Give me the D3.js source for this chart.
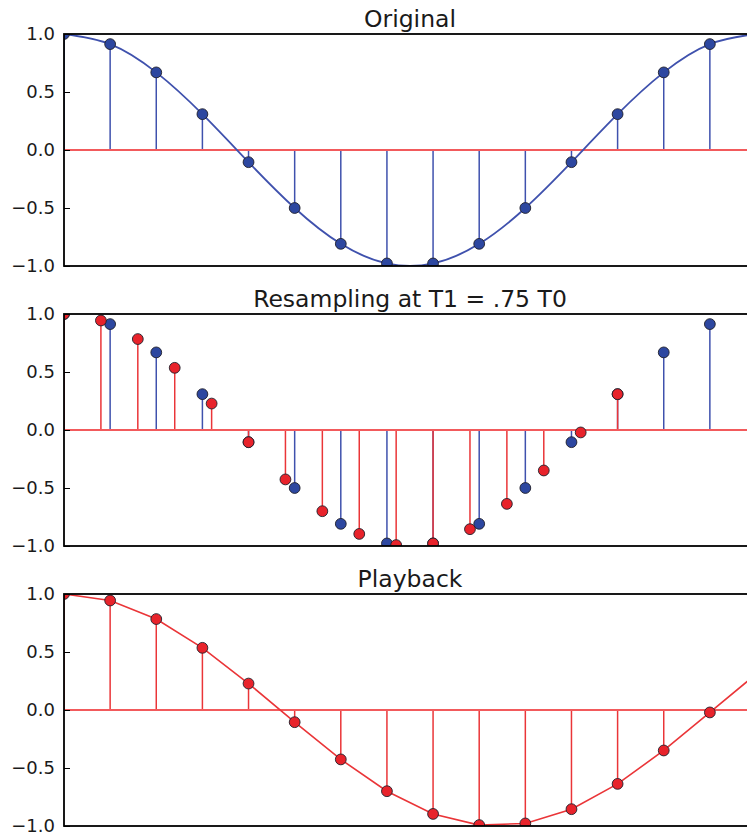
<!DOCTYPE html>
<html>
<head>
<meta charset="utf-8">
<script src="https://cdn.jsdelivr.net/npm/d3@7"></script>
<style>
  html, body { margin: 0; padding: 0; background: #fff; }
  svg { display: block; }
  text { font-family: "DejaVu Sans", sans-serif; fill: #1a1a1a; }
</style>
</head>
<body>
<svg id="chart" width="747" height="836"></svg>
<script>
// ---------------- data ----------------
const titles = ["Original", "Resampling at T1 = .75 T0", "Playback"];
const yTickValues = [-1, -0.5, 0, 0.5, 1];
const yTickLabels = ["\u22121.0", "\u22120.5", "0.0", "0.5", "1.0"];

// original samples (index n)
const originalN = [0, 1, 2, 3, 4, 5, 6, 7, 8, 9, 10, 11, 12, 13, 14, 15];
const originalValues = [1.0, 0.913, 0.669, 0.309, -0.105, -0.5, -0.809, -0.978,
                        -0.978, -0.809, -0.5, -0.105, 0.309, 0.669, 0.913, 1.0];

// resampled instants (in units of T0) and values
const resampleT = [0, 0.8, 1.6, 2.4, 3.2, 4.0, 4.8, 5.6, 6.4, 7.2, 8.0, 8.8, 9.6, 10.4, 11.2, 12.0];
const resampleValues = [1.0, 0.944, 0.784, 0.536, 0.228, -0.105, -0.426, -0.700,
                        -0.896, -0.992, -0.978, -0.855, -0.637, -0.349, -0.021, 0.309];

// playback index
const playbackN = [0, 1, 2, 3, 4, 5, 6, 7, 8, 9, 10, 11, 12, 13, 14, 15];

// ---------------- style ----------------
const BLUE_LINE = "#3f51ad";
const BLUE_MARK = "#2d47a0";
const RED_LINE = "#ea3538";
const RED_MARK = "#e8232b";
const BASE_RED = "#f25a5c";

// ---------------- layout ----------------
const svg = d3.select("#chart");
const left = 64, right = 756, h = 232;
const tops = [34, 314, 594];

const x = d3.scaleLinear().domain([0, 15]).range([left, right]);

function makePanel(i) {
  const top = tops[i];
  const y = d3.scaleLinear().domain([-1, 1]).range([top + h, top]);
  const g = svg.append("g");
  const clipId = "clip" + i;
  svg.append("clipPath").attr("id", clipId)
    .append("rect").attr("x", left).attr("y", top).attr("width", right - left).attr("height", h);
  const plot = g.append("g").attr("clip-path", `url(#${clipId})`);

  // title
  g.append("text")
    .attr("x", (left + right) / 2).attr("y", top - 7.5)
    .attr("text-anchor", "middle")
    .style("font-size", "23.5px")
    .text(titles[i]);

  // y axis
  const ax = g.append("g").attr("transform", `translate(${left},0)`)
    .call(d3.axisLeft(y).tickValues(yTickValues)
      .tickFormat((d, k) => yTickLabels[k])
      .tickSize(-6).tickPadding(9));
  ax.select(".domain").remove();
  ax.selectAll(".tick line").attr("stroke", "#000").attr("stroke-width", 1);
  ax.selectAll(".tick text").style("font-size", "18px").attr("fill", "#1a1a1a")
    .attr("font-family", "DejaVu Sans, sans-serif");

  return { g, plot, y, top };
}

function stems(p, xs, vals, color) {
  p.plot.append("g").selectAll("line").data(xs).join("line")
    .attr("x1", d => x(d)).attr("x2", d => x(d))
    .attr("y1", p.y(0)).attr("y2", (d, k) => p.y(vals[k]))
    .attr("stroke", color).attr("stroke-width", 1.5);
}
function markers(p, xs, vals, fill) {
  p.plot.append("g").selectAll("circle").data(xs).join("circle")
    .attr("cx", d => x(d)).attr("cy", (d, k) => p.y(vals[k]))
    .attr("r", 5.4)
    .attr("fill", fill).attr("stroke", "#1f1f2a").attr("stroke-width", 0.9);
}
function baseline(p) {
  p.plot.append("line")
    .attr("x1", x(0)).attr("x2", x(15))
    .attr("y1", p.y(0)).attr("y2", p.y(0))
    .attr("stroke", BASE_RED).attr("stroke-width", 2);
}
function frame(p) {
  p.g.append("rect")
    .attr("x", left).attr("y", p.top).attr("width", right - left).attr("height", h)
    .attr("fill", "none").attr("stroke", "#000").attr("stroke-width", 1.8);
}

// Panel 1: original
{
  const p = makePanel(0);
  stems(p, originalN, originalValues, BLUE_LINE);
  baseline(p);
  const line = d3.line().x((d, k) => x(d)).y((d, k) => p.y(originalValues[k])).curve(d3.curveNatural);
  p.plot.append("path").datum(originalN).attr("d", line)
    .attr("fill", "none").attr("stroke", BLUE_LINE).attr("stroke-width", 1.8);
  markers(p, originalN, originalValues, BLUE_MARK);
  frame(p);
}

// Panel 2: resampling
{
  const p = makePanel(1);
  stems(p, originalN, originalValues, BLUE_LINE);
  stems(p, resampleT, resampleValues, RED_LINE);
  baseline(p);
  markers(p, originalN, originalValues, BLUE_MARK);
  markers(p, resampleT, resampleValues, RED_MARK);
  frame(p);
}

// Panel 3: playback
{
  const p = makePanel(2);
  stems(p, playbackN, resampleValues, RED_LINE);
  baseline(p);
  const line = d3.line().x(d => x(d)).y((d, k) => p.y(resampleValues[k]));
  p.plot.append("path").datum(playbackN).attr("d", line)
    .attr("fill", "none").attr("stroke", RED_LINE).attr("stroke-width", 1.6);
  markers(p, playbackN, resampleValues, RED_MARK);
  frame(p);
}
</script>
</body>
</html>
